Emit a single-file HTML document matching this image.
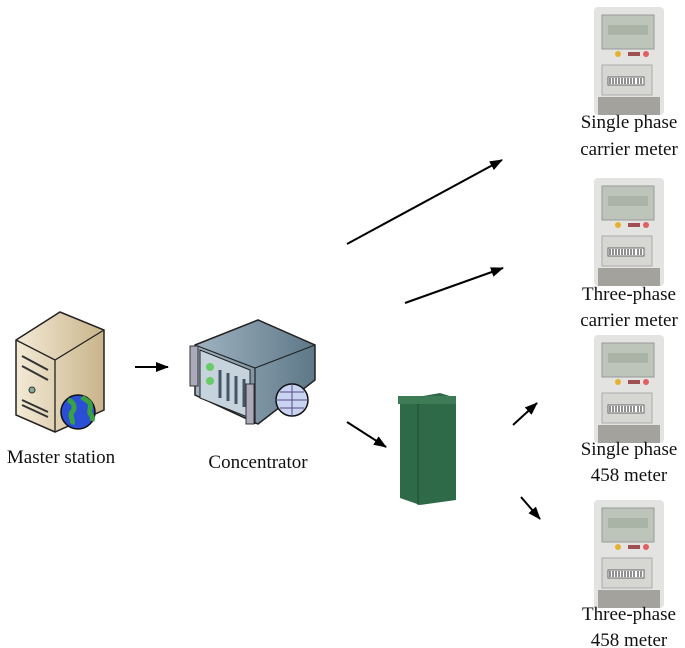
<!DOCTYPE html><html><head><style>body{margin:0;background:#fff}svg{display:block}text{font-family:"Liberation Serif",serif;font-size:19px;fill:#111;text-anchor:middle}</style></head><body>
<svg width="685" height="648" viewBox="0 0 685 648">
<defs>
<marker id="a" markerWidth="13" markerHeight="10" refX="12" refY="5" orient="auto" markerUnits="userSpaceOnUse"><path d="M0,0L13,5L0,10z" fill="#000"/></marker>
<linearGradient id="tan" x1="0" x2="1"><stop offset="0" stop-color="#f3ead6"/><stop offset="1" stop-color="#c9b48a"/></linearGradient>
<linearGradient id="gr" x1="0" x2="1"><stop offset="0" stop-color="#9fb3c2"/><stop offset="1" stop-color="#5e7888"/></linearGradient>
<g id="m">
<rect x="0" y="0" width="70" height="108" rx="4" fill="#e3e4e2"/>
<rect x="8" y="8" width="52" height="34" fill="#bdc5ba" stroke="#999"/>
<rect x="14" y="18" width="40" height="10" fill="#a9b4a6"/>
<circle cx="24" cy="47" r="3" fill="#e8b030"/><rect x="34" y="45" width="12" height="4" fill="#a05050"/><circle cx="52" cy="47" r="3" fill="#e06060"/>
<rect x="8" y="58" width="50" height="30" fill="#d6d6d2" stroke="#aaa"/>
<rect x="14" y="70" width="36" height="8" fill="#fff" stroke="#666"/>
<path d="M16,71v6M19,71v6M22,71v6M25,71v6M28,71v6M31,71v6M34,71v6M37,71v6M40,71v6M44,71v6M47,71v6" stroke="#222"/>
<rect x="4" y="90" width="62" height="18" fill="#a4a29c"/>
</g>
</defs>
<use href="#m" x="594" y="7"/>
<use href="#m" x="594" y="178"/>
<use href="#m" x="594" y="335"/>
<use href="#m" x="594" y="500"/>
<text x="629" y="128">Single phase</text><text x="629" y="155">carrier meter</text>
<text x="629" y="300">Three-phase</text><text x="629" y="326">carrier meter</text>
<text x="629" y="455">Single phase</text><text x="629" y="481">458 meter</text>
<text x="629" y="620">Three-phase</text><text x="629" y="646">458 meter</text>
<path d="M16,340L60,312L104,330L104,410L55,432L16,415z" fill="url(#tan)" stroke="#222" stroke-width="1.5"/>
<path d="M16,340L55,360L104,330M55,360V432" fill="none" stroke="#222" stroke-width="1.3"/>
<path d="M22,356L48,370M22,366L48,380M22,400L48,412M22,405L48,417" stroke="#333" stroke-width="2"/>
<circle cx="32" cy="390" r="3" fill="#8a9" stroke="#333"/>
<circle cx="78" cy="412" r="17" fill="#2a4fd6" stroke="#111" stroke-width="1.5"/>
<path d="M68,400c6,2 8,8 4,12c-3,4 2,8 0,12M82,397c4,4 10,4 8,12c-2,6 4,6 2,12" stroke="#3aa040" stroke-width="5" fill="none"/>
<text x="61" y="463">Master station</text>
<path d="M195,345L258,320L315,345L315,380L258,424L195,395z" fill="url(#gr)" stroke="#222" stroke-width="1.5"/>
<path d="M195,345L255,368L315,345M255,368V424" fill="none" stroke="#222" stroke-width="1.2"/>
<path d="M200,350L250,370L250,418L200,398z" fill="#c7d3dc" stroke="#222"/>
<circle cx="210" cy="367" r="4" fill="#6c6"/><circle cx="210" cy="381" r="4" fill="#6c6"/>
<path d="M220,370v28M228,373v28M236,376v28M244,379v28" stroke="#456" stroke-width="3"/>
<rect x="190" y="346" width="8" height="40" fill="#aab" stroke="#333"/><rect x="246" y="384" width="8" height="40" fill="#aab" stroke="#333"/>
<circle cx="292" cy="400" r="16" fill="#c9d4f0" stroke="#111" stroke-width="1.5"/>
<path d="M276,400h32M292,384v32M280,392h24M280,408h24" stroke="#5a4a8a" fill="none"/>
<text x="258" y="468">Concentrator</text>
<path d="M400,400L440,393L456,398L456,500L420,505L400,498z" fill="#2f6a48"/>
<path d="M400,400L418,404L456,398M418,404V505" stroke="#1d4a30" fill="none"/>
<rect x="398" y="396" width="58" height="8" fill="#3d7a56"/>
<g stroke="#000" stroke-width="2" marker-end="url(#a)">
<line x1="135" y1="367" x2="168" y2="367"/>
<line x1="347" y1="422" x2="386" y2="447"/>
<line x1="347" y1="244" x2="502" y2="160"/>
<line x1="405" y1="303" x2="503" y2="268"/>
<line x1="513" y1="425" x2="537" y2="403"/>
<line x1="521" y1="497" x2="540" y2="519"/>
</g>
</svg></body></html>
